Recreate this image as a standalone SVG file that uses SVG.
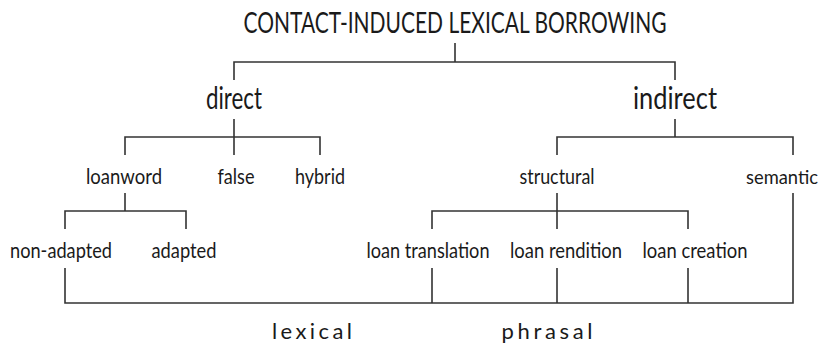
<svg xmlns="http://www.w3.org/2000/svg" width="825" height="345" viewBox="0 0 825 345">
<style>
text{font-family:Lato,"Liberation Sans",sans-serif;fill:#1a1a1a;text-anchor:middle}
.t{font-size:28px}
.l1{font-size:30px}
.l2{font-size:22px}
.b{font-size:22px}
#connectors path{fill:none;stroke:#333;stroke-width:1.6}
</style>
<rect width="825" height="345" fill="#fff"/>
<g id="connectors">
<path d="M455 43V62M234 80V62H675V80"/>
<path d="M234 119V155M125 155V137H320V155"/>
<path d="M675 119V137M557 155V137H793V155"/>
<path d="M125 193V211M65 229V211H186V229"/>
<path d="M557 193V229M432 229V211H688V229"/>
<path d="M65 268V303H793V193M432 268V303M557 268V303M688 268V303"/>
</g>
<g id="title"><text class="t" x="455" y="33" textLength="423" lengthAdjust="spacingAndGlyphs">CONTACT-INDUCED LEXICAL BORROWING</text></g>
<g id="direct"><text class="l1" x="234" y="109" textLength="56" lengthAdjust="spacingAndGlyphs">direct</text></g>
<g id="indirect"><text class="l1" x="675" y="109" textLength="84" lengthAdjust="spacingAndGlyphs">indirect</text></g>
<g id="loanword"><text class="l2" x="124" y="184" textLength="76" lengthAdjust="spacingAndGlyphs">loanword</text></g>
<g id="false"><text class="l2" x="236" y="184" textLength="37" lengthAdjust="spacingAndGlyphs">false</text></g>
<g id="hybrid"><text class="l2" x="320" y="184" textLength="50" lengthAdjust="spacingAndGlyphs">hybrid</text></g>
<g id="structural"><text class="l2" x="557" y="184" textLength="75" lengthAdjust="spacingAndGlyphs">structural</text></g>
<g id="semantic"><text class="l2" x="782" y="184" textLength="72" lengthAdjust="spacingAndGlyphs" style="font-size:20px">semantic</text></g>
<g id="non-adapted"><text class="l2" x="61" y="258" textLength="102" lengthAdjust="spacingAndGlyphs">non-adapted</text></g>
<g id="adapted"><text class="l2" x="184" y="258" textLength="65" lengthAdjust="spacingAndGlyphs">adapted</text></g>
<g id="loan-translation"><text class="l2" x="428" y="258" textLength="123" lengthAdjust="spacingAndGlyphs">loan translation</text></g>
<g id="loan-rendition"><text class="l2" x="566" y="258" textLength="112" lengthAdjust="spacingAndGlyphs">loan rendition</text></g>
<g id="loan-creation"><text class="l2" x="695" y="258" textLength="105" lengthAdjust="spacingAndGlyphs">loan creation</text></g>
<g id="lexical"><text class="b" x="312" y="339" textLength="80" lengthAdjust="spacing">lexical</text></g>
<g id="phrasal"><text class="b" x="547" y="339" textLength="91" lengthAdjust="spacing">phrasal</text></g>
</svg>
